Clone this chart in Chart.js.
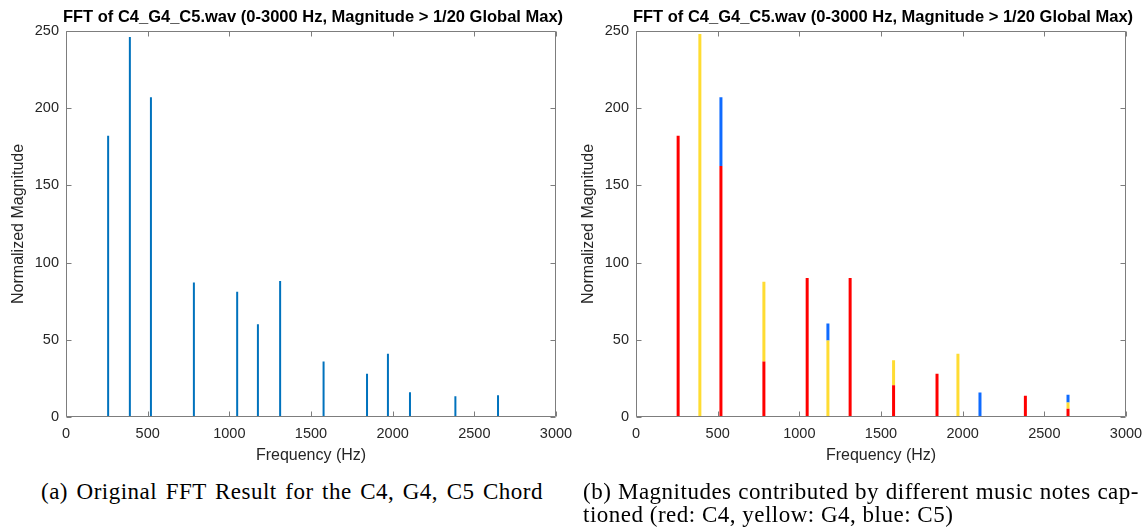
<!DOCTYPE html>
<html>
<head>
<meta charset="utf-8">
<title>FFT of C4_G4_C5.wav</title>
<script src="https://cdn.jsdelivr.net/npm/chart.js@4.4.1/dist/chart.umd.min.js"></script>
<style>
  body { margin: 0; width: 1143px; height: 527px; overflow: hidden; background: #fff; position: relative; }
  canvas { position: absolute; top: 0; }
  #chartA { left: 0; }
  #chartB { left: 570px; }
  .caption { position: absolute; font-family: "Liberation Serif", "Times New Roman", serif; font-size: 23px; letter-spacing: 0.5px; line-height: 23px; color: #000; white-space: nowrap; }
  .fill { text-align: justify; text-align-last: justify; }
</style>
</head>
<body>
<canvas id="chartA" width="626" height="470"></canvas>
<canvas id="chartB" width="626" height="470"></canvas>

<div class="caption fill" style="left:41px; top:480px; width:502px;">(a) Original FFT Result for the C4, G4, C5 Chord</div>
<div class="caption fill" style="left:583px; top:480px; width:556px;">(b) Magnitudes contributed by different music notes cap-</div>
<div class="caption" style="left:583px; top:503px;">tioned (red: C4, yellow: G4, blue: C5)</div>

<script>
const TITLE = "FFT of C4_G4_C5.wav (0-3000 Hz, Magnitude > 1/20 Global Max)";

// peaks above 1/20 of the global max (Hz)
const freqs = [258, 391, 520, 783, 1048, 1175, 1311, 1577, 1843, 1971, 2106, 2384, 2645];

// (a) normalized FFT magnitude at each peak
const magnitude = [182, 246, 207, 87, 81, 60, 88, 36, 28, 41, 16, 13.5, 14];

// (b) share of each peak per note, null = note doesn't contribute
const partC4 = [182, null, 162.5, 36, 90, null, 90, 20.5, 28, null, null, 13.7, 5.3];
const partG4 = [null, 248, null, 51.5, null, 49.5, null, 16.3, null, 41, null, null, 4.1];
const partC5 = [null, null, 44.5, null, null, 11, null, null, null, null, 15.8, null, 5];

// axis ticks
const freqTicks = [0, 500, 1000, 1500, 2000, 2500, 3000];
const magTicks = [0, 50, 100, 150, 200, 250];

Chart.defaults.font.family = '"Liberation Sans", Arial, sans-serif';
Chart.defaults.color = "#262626";

function points(values) {
  return freqs.map((f, i) => ({ x: f, y: values[i] }));
}

// matlab style box with inward ticks on all four sides
const boxAxes = {
  id: "boxAxes",
  afterDatasetsDraw(chart) {
    const { ctx, chartArea, scales } = chart;
    const l = Math.round(chartArea.left) + 0.5;
    const r = Math.round(chartArea.right) - 0.5;
    const t = Math.round(chartArea.top) + 0.5;
    const b = Math.round(chartArea.bottom) - 0.5;
    ctx.save();
    ctx.strokeStyle = "#7d7d7d";
    ctx.lineWidth = 1;
    ctx.beginPath();
    scales.x.ticks.forEach(tk => {
      const px = Math.round(scales.x.getPixelForValue(tk.value)) + 0.5;
      ctx.moveTo(px, b); ctx.lineTo(px, b - 5);
      ctx.moveTo(px, t); ctx.lineTo(px, t + 5);
    });
    scales.y.ticks.forEach(tk => {
      const py = Math.round(scales.y.getPixelForValue(tk.value)) + 0.5;
      ctx.moveTo(l, py); ctx.lineTo(l + 5, py);
      ctx.moveTo(r, py); ctx.lineTo(r - 5, py);
    });
    ctx.rect(l, t, r - l, b - t);
    ctx.stroke();
    ctx.restore();
  }
};

function makeChart(id, datasets) {
  return new Chart(document.getElementById(id), {
    type: "bar",
    data: { datasets },
    plugins: [boxAxes],
    options: {
      responsive: false,
      animation: false,
      plugins: {
        legend: { display: false },
        tooltip: { enabled: false },
        title: {
          display: true,
          text: TITLE,
          color: "#000",
          font: { size: 16.5, weight: "bold" },
          padding: { top: 8, bottom: 3 }
        }
      },
      scales: {
        x: {
          type: "linear",
          offset: false,
          min: 0,
          max: 3000,
          afterBuildTicks: s => { s.ticks = freqTicks.map(v => ({ value: v })); },
          afterFit: s => { s.height = 53; },
          grid: { display: false, drawTicks: false, offset: false },
          border: { display: false },
          ticks: { font: { size: 14.5 }, padding: 8, maxRotation: 0, autoSkip: false, callback: v => String(v) },
          title: { display: true, text: "Frequency (Hz)", font: { size: 16 }, padding: { top: 0, bottom: 5 } }
        },
        y: {
          stacked: true,
          min: 0,
          max: 250,
          afterBuildTicks: s => { s.ticks = magTicks.map(v => ({ value: v })); },
          afterFit: s => { s.width = 66; },
          grid: { display: false, drawTicks: false },
          border: { display: false },
          ticks: { font: { size: 14.5 }, padding: 7 },
          title: { display: true, text: "Normalized Magnitude", font: { size: 16 }, padding: { top: 9, bottom: 0 } }
        },
        // empty right-hand margin so the title centres over the plot box
        yRight: {
          position: "right",
          afterFit: s => { s.width = 70; },
          grid: { display: false, drawTicks: false },
          border: { display: false },
          ticks: { display: false }
        }
      }
    }
  });
}

makeChart("chartA", [
  { label: "FFT", data: points(magnitude), backgroundColor: "#0072BD", grouped: false, maxBarThickness: 2 }
]);

makeChart("chartB", [
  { label: "C4", data: points(partC4), backgroundColor: "#FF0000", grouped: false, maxBarThickness: 3 },
  { label: "G4", data: points(partG4), backgroundColor: "#FFDC32", grouped: false, maxBarThickness: 3 },
  { label: "C5", data: points(partC5), backgroundColor: "#0F6BFF", grouped: false, maxBarThickness: 3 }
]);
</script>
</body>
</html>
